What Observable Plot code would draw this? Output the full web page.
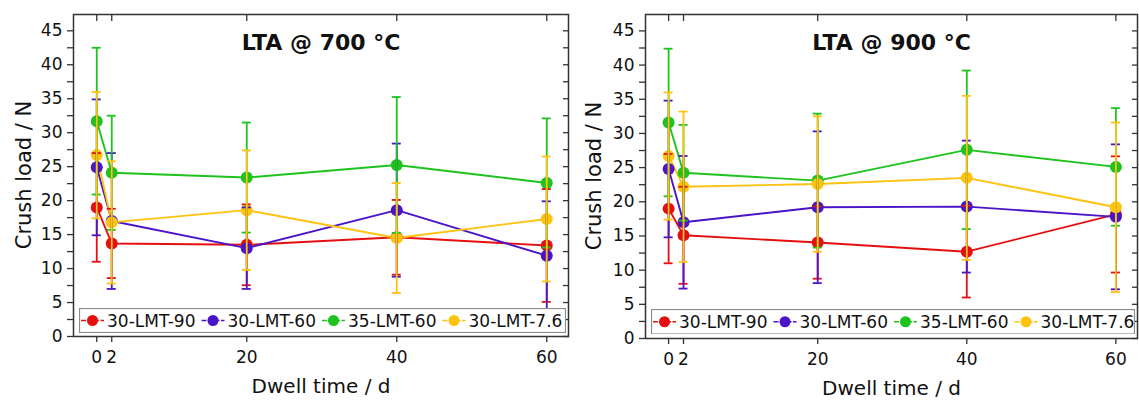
<!DOCTYPE html>
<html><head><meta charset="utf-8">
<script src="https://cdn.jsdelivr.net/npm/d3@7"></script>
<script src="https://cdn.jsdelivr.net/npm/@observablehq/plot@0.6"></script>
<style>
body{margin:0;background:#fff;}
#wrap{position:relative;width:1139px;height:402px;overflow:hidden;font-family:"DejaVu Sans",sans-serif;background:#fff;}
.panel{position:absolute;top:0;}
.legend{position:absolute;}
.legend text{font-family:"DejaVu Sans",sans-serif;font-size:17px;}
</style></head><body><div id="wrap"></div>
<script>
// ---- data ----
const days = [0, 2, 20, 40, 60];
const seriesNames = ["30-LMT-90", "30-LMT-60", "35-LMT-60", "30-LMT-7.6"];
const seriesColors = ["#e60f0f", "#4a14c8", "#1ec31e", "#ffc20e"];
const xTicks = [0, 2, 20, 40, 60];
const yTicks = [0, 5, 10, 15, 20, 25, 30, 35, 40, 45];
const yMinorTicks = [2.5, 7.5, 12.5, 17.5, 22.5, 27.5, 32.5, 37.5, 42.5];
const titles = ["LTA @ 700 °C", "LTA @ 900 °C"];
const xLabel = "Dwell time / d";
const yLabel = "Crush load / N";

// 700 °C : mean and error (±) per dwell time
const m700_90  = [19.0, 13.7, 13.5, 14.6, 13.4];
const e700_90  = [8.0, 5.1, 5.95, 5.5, 8.3];
const m700_60  = [24.9, 17.0, 13.0, 18.6, 11.9];
const e700_60  = [10.0, 10.0, 6.0, 9.8, 8.0];
const m700_35  = [31.7, 24.1, 23.4, 25.25, 22.6];
const e700_35  = [10.8, 8.4, 8.1, 10.0, 9.5];
const m700_76  = [26.7, 16.8, 18.6, 14.5, 17.3];
const e700_76  = [9.3, 9.0, 8.8, 8.1, 9.2];

// 900 °C
const m900_90  = [19.0, 15.1, 14.05, 12.7, 18.15];
const e900_90  = [8.0, 7.1, 5.3, 6.7, 8.5];
const m900_60  = [24.8, 17.0, 19.2, 19.3, 17.8];
const e900_60  = [10.0, 9.7, 11.1, 9.65, 10.6];
const m900_35  = [31.6, 24.25, 23.1, 27.6, 25.1];
const e900_35  = [10.8, 7.0, 9.8, 11.6, 8.6];
const m900_76  = [26.7, 22.2, 22.6, 23.5, 19.2];
const e900_76  = [9.3, 11.0, 9.9, 12.0, 12.4];

const INK = "#111";
const AXIS = "#333";

function buildRows(means, errs) {
  const rows = [];
  means.forEach((m, s) => m.forEach((v, i) => rows.push({
    series: seriesNames[s], day: days[i], v, lo: v - errs[s][i], hi: v + errs[s][i]
  })));
  return rows;
}

function panel({title, means, errs, width, marginLeft, marginRight, marginBottom, yLabelOffset}) {
  const rows = buildRows(means, errs);
  const errMarks = [];
  seriesNames.forEach((name, s) => {
    const d = rows.filter(r => r.series === name);
    const c = seriesColors[s];
    errMarks.push(
      Plot.ruleX(d, {x: "day", y1: "lo", y2: "hi", stroke: c, strokeWidth: 1.8}),
      Plot.ruleY(d, {x1: "day", x2: "day", y: "hi", stroke: c, strokeWidth: 1.8, insetLeft: -4.5, insetRight: -4.5}),
      Plot.ruleY(d, {x1: "day", x2: "day", y: "lo", stroke: c, strokeWidth: 1.8, insetLeft: -4.5, insetRight: -4.5})
    );
  });
  const plot = Plot.plot({
    width, height: 402, marginLeft, marginRight, marginTop: 14, marginBottom,
    x: {domain: [-3.1, 62.9]},
    y: {domain: [0, 47.4]},
    color: {domain: seriesNames, range: seriesColors},
    style: {fontFamily: "DejaVu Sans, sans-serif", fontSize: "17px", color: INK, background: "white", overflow: "visible"},
    marks: [
      Plot.axisY({ticks: yTicks, tickSize: 6, tickPadding: 5, stroke: AXIS, strokeWidth: 1.3, fill: INK, fontSize: 17, label: null}),
      Plot.axisY({ticks: yMinorTicks, tickSize: 6, stroke: AXIS, strokeWidth: 1.3, fill: "none", label: null}),
      Plot.axisY({anchor: "right", ticks: [...yTicks, ...yMinorTicks], tickSize: 6, dx: -6, stroke: AXIS, strokeWidth: 1.3, fill: "none", label: null}),
      Plot.axisX({ticks: xTicks, tickSize: 6, tickPadding: 8, stroke: AXIS, strokeWidth: 1.3, fill: INK, fontSize: 17, label: null}),
      Plot.axisX({anchor: "top", ticks: xTicks, tickSize: 6, dy: 6, stroke: AXIS, strokeWidth: 1.3, fill: "none", label: null}),
      Plot.lineY(rows, {x: "day", y: "v", stroke: "series", z: "series", strokeWidth: 1.9}),
      Plot.dot(rows, {x: "day", y: "v", fill: "series", r: 6}),
      ...errMarks,
      Plot.frame({stroke: AXIS, strokeWidth: 1.5}),
      Plot.text([title], {frameAnchor: "top", lineAnchor: "middle", textAnchor: "middle", dy: 28, fontSize: 22, fontWeight: "bold", fill: INK}),
      Plot.text([xLabel], {frameAnchor: "bottom", textAnchor: "middle", lineAnchor: "middle", dy: 50, fontSize: 20, fill: INK})
    ]
  });
  // rotated y-axis title, centred on the y scale's range
  const [r0, r1] = plot.scale("y").range;
  const cy = (r0 + r1) / 2;
  const cx = marginLeft - yLabelOffset;
  d3.select(plot).append("text")
    .attr("transform", `translate(${cx},${cy}) rotate(-90)`)
    .attr("text-anchor", "middle")
    .attr("dy", "0.35em")
    .attr("fill", INK)
    .style("font-family", "'DejaVu Sans', sans-serif")
    .style("font-size", "21px")
    .text(yLabel);
  return plot;
}

function legend(left, top, width, height) {
  const svg = d3.create("svg")
    .attr("class", "legend")
    .attr("width", width).attr("height", height)
    .style("left", left + "px").style("top", top + "px");
  svg.append("rect").attr("x", 0.5).attr("y", 0.5).attr("width", width - 1).attr("height", height - 1)
    .attr("fill", "white").attr("stroke", "#8a8a8a").attr("stroke-width", 1.2);
  const cy = height / 2;
  seriesNames.forEach((name, i) => {
    const g = svg.append("g").attr("transform", `translate(${2 + i * 120.5},0)`);
    g.append("line").attr("x1", 0).attr("x2", 23).attr("y1", cy).attr("y2", cy)
      .attr("stroke", seriesColors[i]).attr("stroke-width", 1.7).attr("stroke-dasharray", "5 1.5");
    g.append("circle").attr("cx", 11.5).attr("cy", cy).attr("r", 5.5).attr("fill", seriesColors[i]);
    g.append("text").attr("x", 26).attr("y", cy + 6)
      .style("font-size", "17px").style("font-family", "'DejaVu Sans', sans-serif")
      .attr("fill", INK).text(name);
  });
  return svg.node();
}

const wrap = document.getElementById("wrap");

const p1 = panel({title: titles[0], means: [m700_90, m700_60, m700_35, m700_76], errs: [e700_90, e700_60, e700_35, e700_76],
  width: 572, marginLeft: 73, marginRight: 4, marginBottom: 66, yLabelOffset: 49});
p1.classList.add("panel"); p1.style.left = "0px";
wrap.appendChild(p1);

const p2 = panel({title: titles[1], means: [m900_90, m900_60, m900_35, m900_76], errs: [e900_90, e900_60, e900_35, e900_76],
  width: 567, marginLeft: 73, marginRight: 2, marginBottom: 64, yLabelOffset: 51});
p2.classList.add("panel"); p2.style.left = "572px";
wrap.appendChild(p2);

wrap.appendChild(legend(78.5, 307.5, 487, 25));
wrap.appendChild(legend(650.5, 308.5, 484, 25.5));
</script>
</body></html>
